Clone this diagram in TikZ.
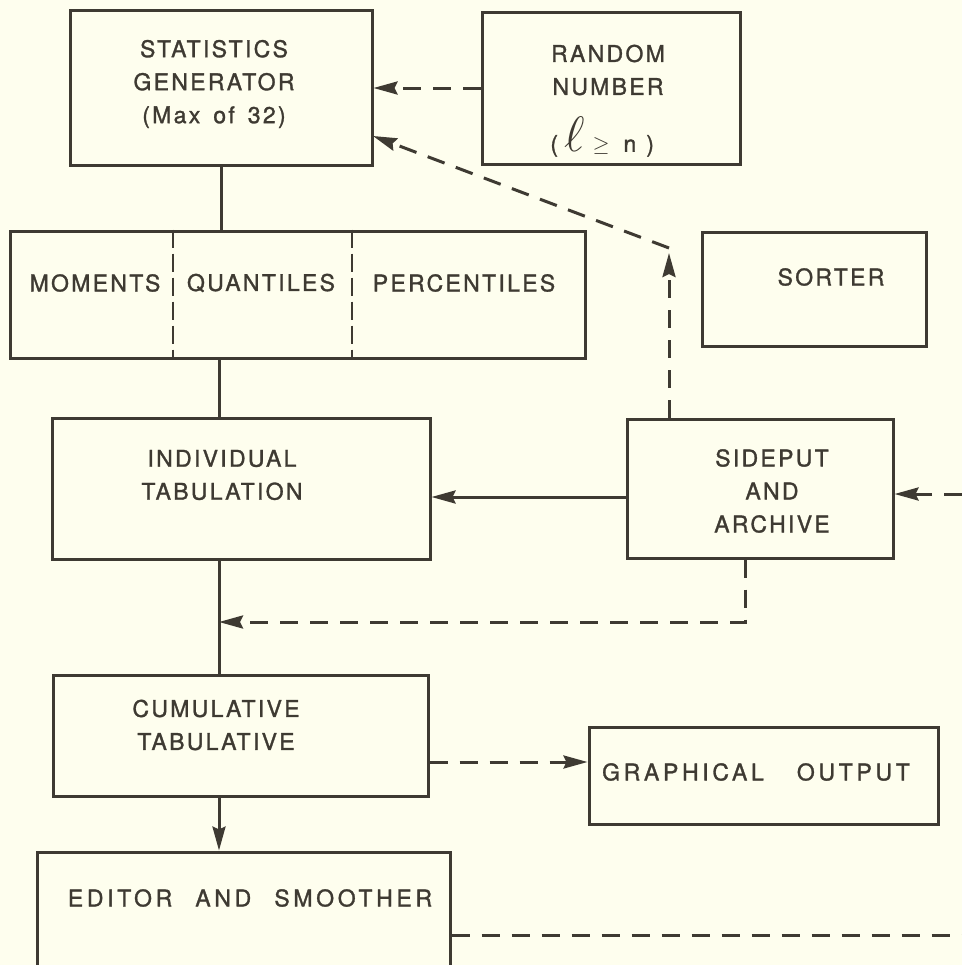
\documentclass[tikz,border=0pt]{standalone}
\usepackage{fontspec}
\usetikzlibrary{arrows.meta}
\newfontfamily\lett{TeX Gyre Heros}[LetterSpace=10,WordSpace=1.5,FakeBold=1.3]
\newfontfamily\lettw{TeX Gyre Heros}[LetterSpace=16,WordSpace=1.5,FakeBold=1.3]
\definecolor{ink}{RGB}{62,58,50}
\definecolor{paper}{RGB}{254,254,238}
\begin{document}
\begin{tikzpicture}[x=0.5pt,y=-0.5pt,
  box/.style={draw=ink, line width=1.5pt, rectangle, inner sep=0pt, anchor=center},
  lbl/.style={text=ink, font=\lett\fontsize{11.5pt}{16.5pt}\selectfont, align=center, inner sep=0pt},
  lblw/.style={lbl, font=\lettw\fontsize{11.5pt}{16.5pt}\selectfont},
  conn/.style={draw=ink, line width=1.5pt},
  dsh/.style={conn, dash pattern=on 9pt off 6pt},
  divider/.style={draw=ink, line width=1.2pt, dash pattern=on 9pt off 3pt},
  tip/.style={-{Stealth[length=12pt,width=6.5pt,inset=1.5pt]}}]
\clip (0,0) rectangle (962,965);
\fill[paper] (0,0) rectangle (962,965);
% helper coordinates
\coordinate (col) at (219,0);
\coordinate (d1) at (173,0);
\coordinate (d2) at (352,0);
\coordinate (r1) at (0,497);
\coordinate (rin) at (962,494);
\coordinate (c1) at (745,622);
\coordinate (c2) at (669,253);
\coordinate (c3) at (669,248);
\coordinate (c4) at (373,136);
\coordinate (r2) at (0,762);
\coordinate (eout) at (962,935);
% boxes
\node[box, minimum width=151pt, minimum height=77.5pt] (stat) at (221,87.5) {};
\node[box, minimum width=129pt, minimum height=76pt] (rand) at (611,88) {};
\node[box, minimum width=287.5pt, minimum height=63.5pt] (mom) at (298,294.5) {};
\node[box, minimum width=112pt, minimum height=57pt] (sort) at (814,289) {};
\node[box, minimum width=189pt, minimum height=70.5pt] (indiv) at (241,488.5) {};
\node[box, minimum width=133pt, minimum height=69.5pt] (side) at (760,488.5) {};
\node[box, minimum width=187.5pt, minimum height=60.5pt] (cum) at (240.5,735.5) {};
\node[box, minimum width=174.5pt, minimum height=48.5pt] (graph) at (763.5,775.5) {};
\node[box, minimum width=206.5pt, minimum height=57.5pt] (ed) at (243.5,909.5) {};
% texts
\node[lbl] (statT) at (214,84) {STATISTICS\\GENERATOR\\(Max of 32)};
\node[lbl] (randT) at (608,70) {RANDOM\\NUMBER};
\node[lbl, anchor=west] (randF) at (550,137) {(\hspace{3pt}{\fontsize{23pt}{23pt}\selectfont$\ell$}\hspace{4pt}{\fontsize{10.5pt}{10.5pt}\selectfont$\geq$}\hspace{7pt}n\hspace{5pt})};
\node[lbl] (momT) at (95,283) {MOMENTS};
\node[lbl] (quaT) at (261,283) {QUANTILES};
\node[lbl] (perT) at (464,283) {PERCENTILES};
\node[lbl] (sortT) at (831,277) {SORTER};
\node[lbl] (indivT) at (222,475) {INDIVIDUAL\\TABULATION};
\node[lbl] (sideT) at (772,491) {SIDEPUT\\AND\\ARCHIVE};
\node[lbl] (cumT) at (216,725) {CUMULATIVE\\TABULATIVE};
\node[lblw] (graphT) at (756,772) {GRAPHICAL\hspace{9pt} OUTPUT};
\node[lblw] (edT) at (250,898) {EDITOR\hspace{4pt} AND\hspace{4pt} SMOOTHER};
% dividers
\draw[divider] (mom.north -| d1) -- (mom.south -| d1);
\draw[divider] (mom.north -| d2) -- (mom.south -| d2);
% solid connectors
\draw[conn] (stat.south) -- (stat.south |- mom.north);
\draw[conn] (mom.south -| col) -- (indiv.north -| col);
\draw[conn] (indiv.south -| col) -- (cum.north -| col);
\draw[conn, tip] (cum.south -| col) -- (ed.north -| col);
\draw[conn, tip] (side.west |- r1) -- (indiv.east |- r1);
% dashed connectors
\draw[dsh, tip] (rand.west) -- (rand.west -| stat.east);
\draw[dsh, tip] (side.north -| c2) -- (c2);
\draw[dsh, tip] (c3) -- (c4);
\draw[dsh, tip] (rin) -- (side.east |- rin);
\draw[dsh, tip] (side.south -| c1) -- (c1) -- (c1 -| col);
\draw[dsh, tip] (cum.east |- r2) -- (graph.west |- r2);
\draw[dsh] (ed.east |- eout) -- (eout);
\end{tikzpicture}
\end{document}
